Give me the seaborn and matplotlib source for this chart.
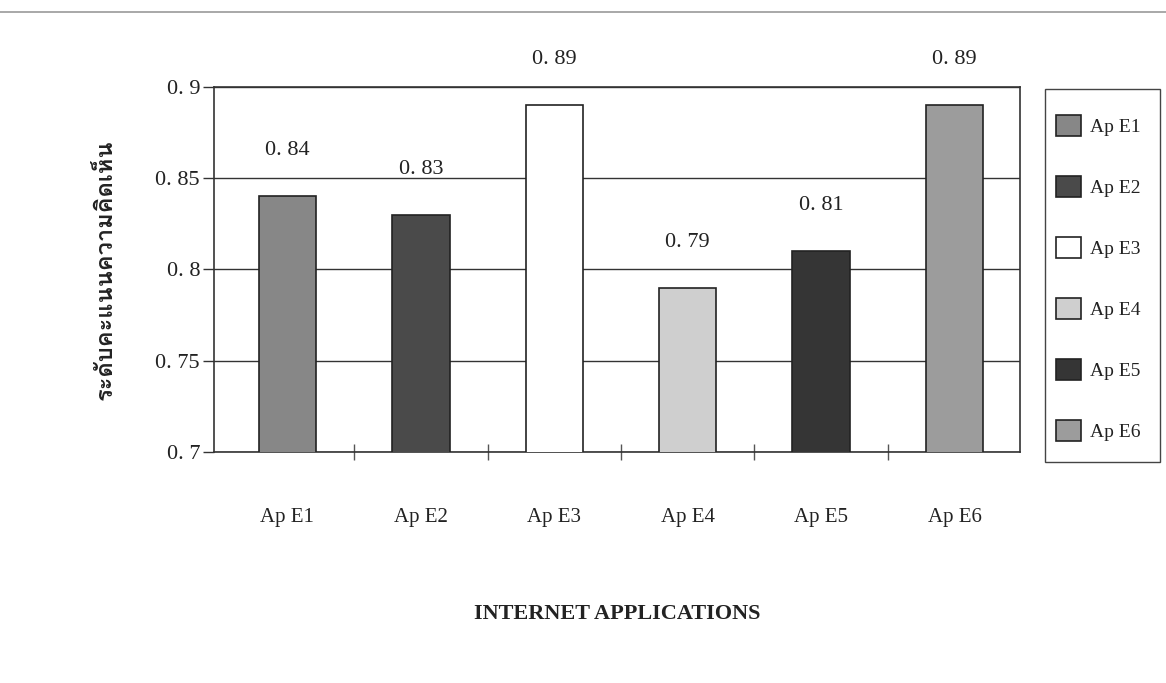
import numpy as np
import pandas as pd
import seaborn as sns
import matplotlib
matplotlib.use("Agg")
import matplotlib.pyplot as plt
from matplotlib.patches import Patch, Rectangle
from matplotlib.ticker import FixedLocator
from matplotlib import font_manager
from matplotlib.ft2font import FT2Font

# Opinion scores per internet application
apps = ["Ap E1", "Ap E2", "Ap E3", "Ap E4", "Ap E5", "Ap E6"]
scores = [0.84, 0.83, 0.89, 0.79, 0.81, 0.89]
y_ticks = [0.7, 0.75, 0.8, 0.85, 0.9]
bar_colors = ["#878787", "#4a4a4a", "#ffffff", "#cfcfcf", "#353535", "#9c9c9c"]

x_title = "INTERNET APPLICATIONS"
y_title = "ระดับคะแนนความคิดเห็น"


def find_family(codepoint):
    for entry in font_manager.fontManager.ttflist:
        try:
            if codepoint in FT2Font(entry.fname).get_charmap():
                return entry.name
        except Exception:
            continue
    return None


sns.set_theme(style="white")
plt.rcParams["font.family"] = ["Liberation Serif", "DejaVu Serif"]
thai_family = find_family(0x0E23)

df = pd.DataFrame({"app": apps, "score": scores})

fig = plt.figure(figsize=(11.66, 6.83), dpi=100)
ax = fig.add_axes([0.1835, 0.338, 0.6913, 0.535])

sns.barplot(data=df, x="app", y="score", hue="app", palette=bar_colors,
            width=0.43, edgecolor="#222222", linewidth=1.2, legend=False,
            ax=ax, zorder=3)

ax.set_ylim(0.7, 0.9)
ax.set_xlim(-0.55, 5.49)
ax.set_yticks(y_ticks)
ax.set_yticklabels([f"{v:g}".replace(".", ". ") for v in y_ticks],
                   fontsize=16, color="#222222")
ax.yaxis.grid(True, color="#333333", linewidth=1.0, zorder=0)
ax.xaxis.grid(False)

for sp in ax.spines.values():
    sp.set_visible(True)
    sp.set_color("#333333")
    sp.set_linewidth(1.2)

ax.tick_params(axis="y", which="major", left=True, length=8, width=1,
               color="#333333", pad=2)
ax.tick_params(axis="x", which="major", bottom=False, length=0, pad=40,
               labelsize=15, labelcolor="#222222")
ax.xaxis.set_minor_locator(FixedLocator(np.arange(0.5, len(apps) - 0.5, 1)))
ax.tick_params(axis="x", which="minor", bottom=True, length=12, width=1,
               color="#555555", direction="inout")

# value labels above each bar
for cont, v in zip(ax.containers, scores):
    ax.bar_label(cont, labels=[f"{v:.2f}".replace(".", ". ")], padding=26,
                 fontsize=16, color="#222222", clip_on=False)

ax.set_xlabel(x_title, fontsize=16, fontweight="bold", color="#222222",
              labelpad=56)
ylab_kw = dict(fontsize=17, fontweight="bold", color="#222222", labelpad=28)
if thai_family:
    ylab_kw["fontfamily"] = [thai_family, "DejaVu Sans"]
ax.set_ylabel(y_title, **ylab_kw)

# legend entries, with a narrow box drawn around them
handles = [Patch(facecolor=c, edgecolor="#222222", linewidth=1.2)
           for c in bar_colors]
leg = fig.legend(handles, apps, loc="upper left",
                 bbox_to_anchor=(0.9057, 0.832), frameon=False,
                 fontsize=14, labelspacing=2.05,
                 handlelength=1.3, handleheight=1.3, handletextpad=0.45,
                 borderpad=0, borderaxespad=0)
for t in leg.get_texts():
    t.set_color("#222222")
fig.add_artist(Rectangle((0.8962, 0.3236), 0.0986, 0.5461,
                         transform=fig.transFigure, fill=False,
                         edgecolor="#444444", linewidth=1.0))

# rule across the top of the page
fig.add_artist(plt.Line2D([0.0, 1.0], [0.982, 0.982], transform=fig.transFigure,
                          color="#9a9a9a", linewidth=1.2))

fig.savefig("out.png", dpi=100, facecolor="white")
